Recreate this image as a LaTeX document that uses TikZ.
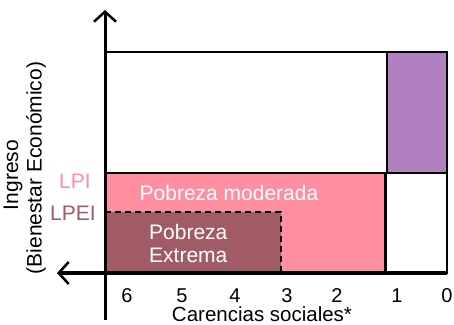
\documentclass[tikz,border=0pt]{standalone}
\usepackage{fontspec}
\setmainfont{Liberation Sans}
\usetikzlibrary{arrows.meta}
\definecolor{pinkfill}{RGB}{255,143,160}
\definecolor{darkfill}{RGB}{160,91,100}
\definecolor{purplefill}{RGB}{176,128,192}
\begin{document}
\begin{tikzpicture}[x=1bp,y=-1bp,
  lbl/.style={font=\fontsize{21bp}{24bp}\selectfont, inner sep=0pt},
  tick/.style={font=\fontsize{20bp}{22bp}\selectfont, inner sep=0pt, anchor=base},
  axisline/.style={line width=3bp},
  boxline/.style={line width=2.5bp},
  dashline/.style={line width=2bp, dash pattern=on 6bp off 4bp},
  arr/.style={-{Straight Barb[length=10bp,width=22bp,line width=2.5bp]}}]
\useasboundingbox (0,0) rectangle (454,324);
% corners
\coordinate (tl) at (105,52);
\coordinate (tr) at (447,52);
\coordinate (ml) at (105,173);
\coordinate (mr) at (447,173);
\coordinate (pt) at (387,52);
\coordinate (pm) at (387,173);
\coordinate (lt) at (385.5,173);
\coordinate (pb) at (385.5,273);
\coordinate (bl) at (105,273);
\coordinate (br) at (447,273);
\coordinate (dt) at (105,212);
\coordinate (dr) at (281,212);
\coordinate (db) at (281,273);
% axis ends
\coordinate (vtop) at (105,10);
\coordinate (vbot) at (105,320);
\coordinate (hleft) at (57,273);
% fills
\fill[pinkfill] (ml) rectangle (pb);
\fill[darkfill] (dt) rectangle (db);
\fill[purplefill] (pt) rectangle (mr);
% lines
\draw[boxline] (tl) rectangle (br);
\draw[boxline] (ml) -- (mr);
\draw[boxline] (pt) -- (pm);
\draw[boxline] (lt) -- (pb);
\draw[dashline] (dt) -- (dr) -- (db);
\draw[axisline, arr] (vbot) -- (vtop);
\draw[line width=3.5bp, arr] (br) -- (hleft);
% labels
\node[lbl, text=pinkfill] (lpi) at (75,181) {LPI};
\node[lbl, text=darkfill] (lpei) at (73,213) {LPEI};
\node[lbl, text=white, anchor=base] (mod) at (229,200.5) {Pobreza moderada};
\node[lbl, text=white, anchor=base west] (ext1) at (149,239) {Pobreza};
\node[lbl, text=white, anchor=base west] (ext2) at (149,262.5) {Extrema};
\node[tick] (n6) at (127,302) {6};
\node[tick] (n5) at (182,302) {5};
\node[tick] (n4) at (235,302) {4};
\node[tick] (n3) at (287,302) {3};
\node[tick] (n2) at (337,302) {2};
\node[tick] (n1) at (397,302) {1};
\node[tick] (n0) at (447,302) {0};
\node[font=\fontsize{20.5bp}{22bp}\selectfont, inner sep=0pt, anchor=base] (xlab) at (262,321) {Carencias sociales*};
\node[lbl, rotate=90] (ylab1) at (13,175) {Ingreso};
\node[lbl, rotate=90] (ylab2) at (36,168) {(Bienestar Económico)};
\end{tikzpicture}
\end{document}
